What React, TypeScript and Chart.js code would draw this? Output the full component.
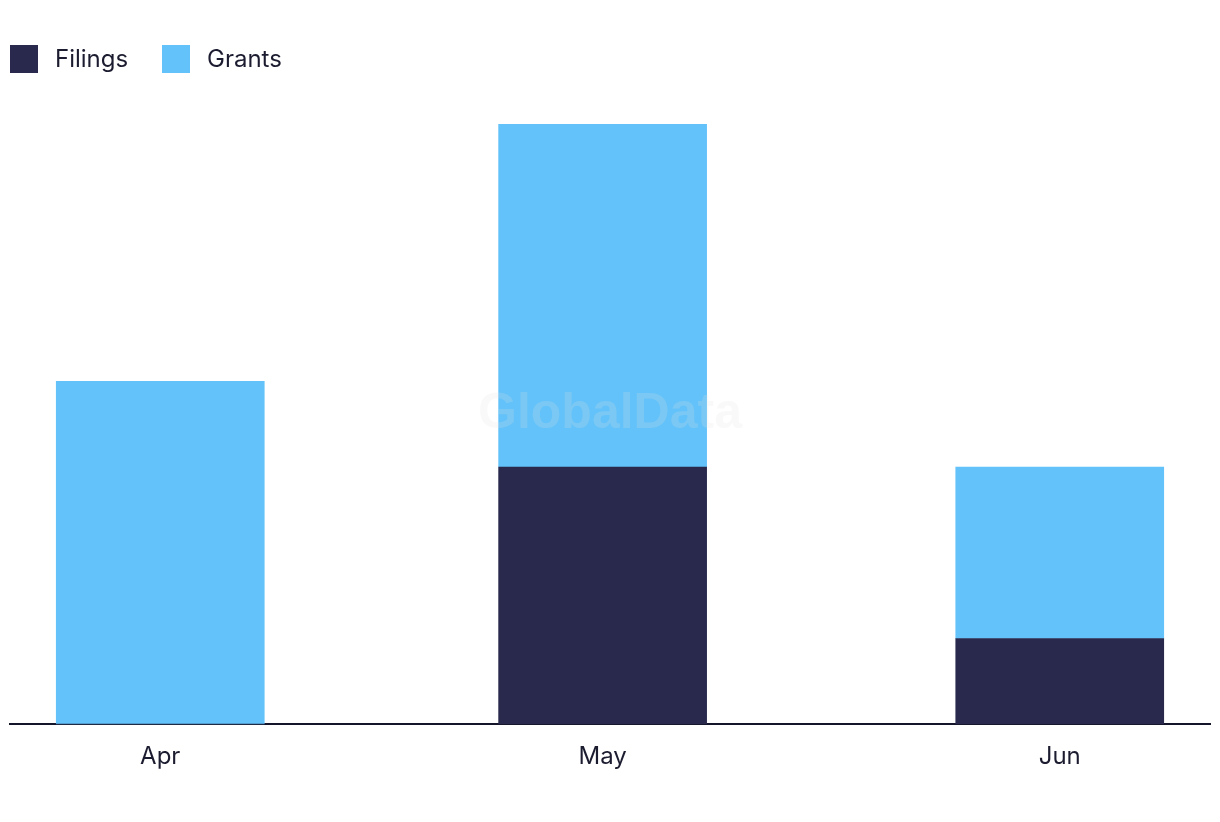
import React, { useEffect, useRef } from "react";
import { Chart, registerables } from "chart.js";

Chart.register(...registerables);

const months = ["Apr", "May", "Jun"];
// days from 1 Apr (month starts on a time axis)
const monthDayOffsets = [0, 30, 61];
const filings = [0, 3, 1];
const grants = [4, 4, 2];
const seriesNames = ["Filings", "Grants"];
const seriesColors = ["#28294c", "#62c2f9"];

const FONT = "Inter, 'Noto Sans', sans-serif";
const TEXT = "#1c1c30";

const watermark = {
  id: "watermark",
  afterDatasetsDraw(chart: any) {
    const { ctx, chartArea } = chart;
    ctx.save();
    ctx.font = "bold 50px 'Liberation Sans', Arial, sans-serif";
    ctx.fillStyle = "rgba(225,225,225,0.2)";
    ctx.textAlign = "center";
    ctx.textBaseline = "middle";
    ctx.fillText("GlobalData", (chartArea.left + chartArea.right) / 2, (chartArea.top + chartArea.bottom) / 2 - 10);
    ctx.restore();
  },
};

export default function App() {
  const ref = useRef<HTMLCanvasElement | null>(null);
  useEffect(() => {
    if (!ref.current) return;
    const chart = new Chart(ref.current, {
      type: "bar",
      data: {
        datasets: [
          {
            label: seriesNames[0],
            data: monthDayOffsets.map((x, i) => ({ x, y: filings[i] })),
            backgroundColor: seriesColors[0],
            barThickness: 208,
          },
          {
            label: seriesNames[1],
            data: monthDayOffsets.map((x, i) => ({ x, y: grants[i] })),
            backgroundColor: seriesColors[1],
            barThickness: 208,
          },
        ],
      },
      options: {
        animation: false,
        responsive: false,
        layout: { padding: { left: 10, right: 10, top: 124, bottom: 33 } },
        plugins: {
          tooltip: { enabled: false },
          legend: { display: false },
        },
        scales: {
          x: {
            type: "linear",
            stacked: true,
            offset: false,
            min: -10.19,
            max: 71.19,
            grid: { display: false, drawTicks: false },
            border: { display: true, color: "#14142a", width: 2 },
            afterBuildTicks(scale: any) {
              scale.ticks = monthDayOffsets.map((v) => ({ value: v }));
            },
            ticks: {
              color: TEXT,
              padding: 18,
              font: { family: FONT, size: 24 },
              callback: (_v: any, i: number) => months[i],
            },
          },
          y: {
            stacked: true,
            display: false,
            min: 0,
            max: 7,
          },
        },
      },
      plugins: [watermark],
    } as any);
    return () => chart.destroy();
  }, []);
  return (
    <div style={{ position: "absolute", left: 0, top: 0, width: 1220, height: 822, background: "#fff" }}>
      <canvas ref={ref} width={1220} height={822} style={{ display: "block" }} />
      <div
        style={{
          position: "absolute",
          left: 10,
          top: 45,
          display: "flex",
          alignItems: "center",
          fontFamily: FONT,
          fontSize: 24,
          color: TEXT,
          lineHeight: "28px",
        }}
      >
        {seriesNames.map((n, i) => (
          <div key={n} style={{ display: "flex", alignItems: "center", width: i === 0 ? 152 : "auto" }}>
            <span style={{ display: "inline-block", width: 28, height: 28, background: seriesColors[i], marginRight: 17 }} />
            <span>{n}</span>
          </div>
        ))}
      </div>
    </div>
  );
}
